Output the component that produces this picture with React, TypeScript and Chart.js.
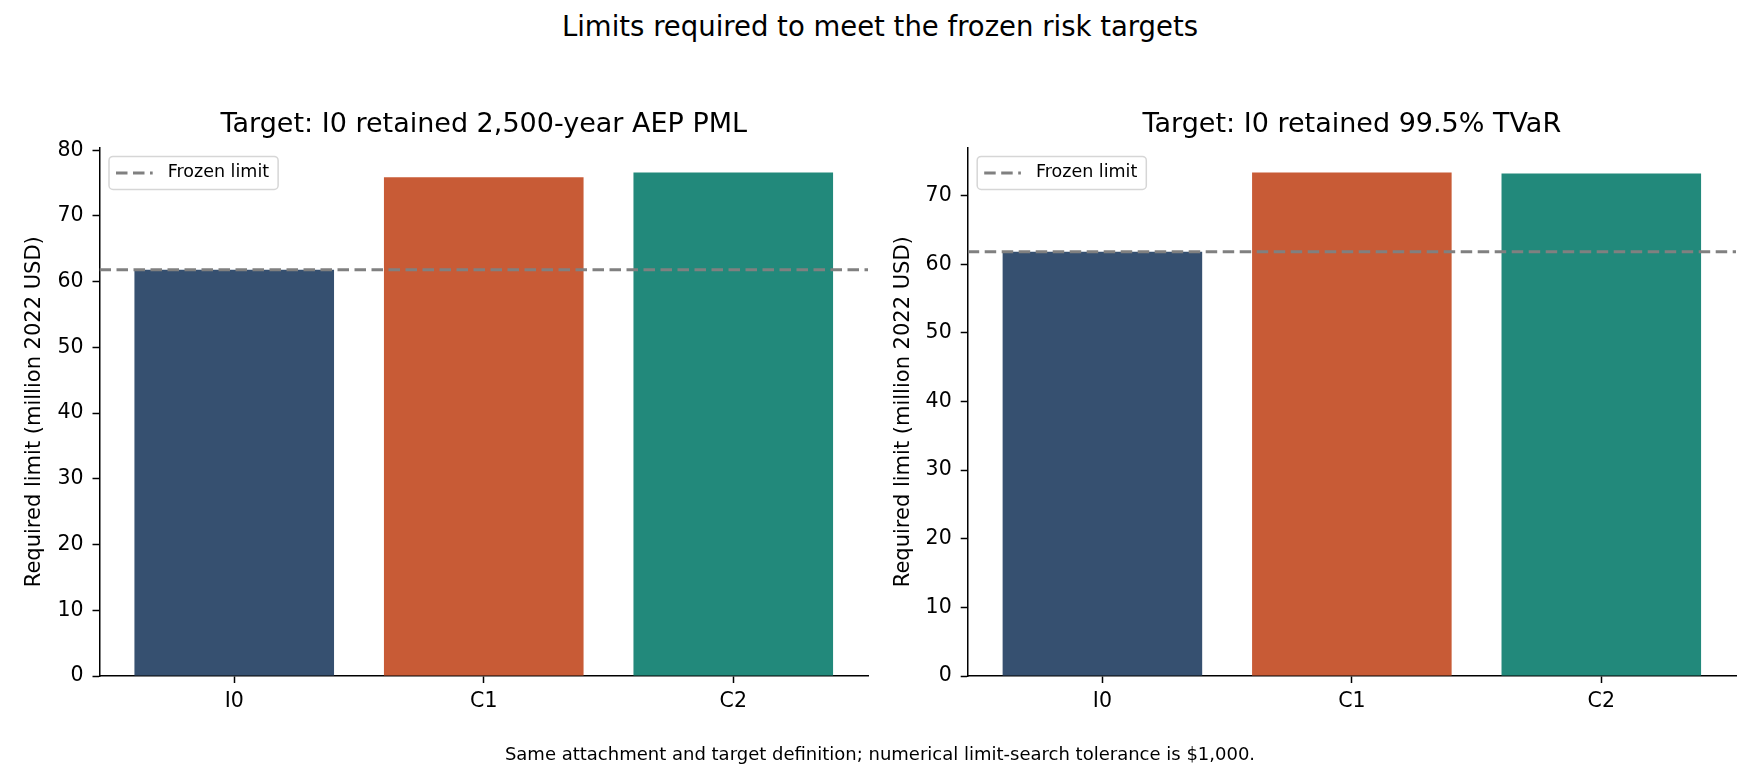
import { useEffect, useRef } from "react";
import { Chart, registerables } from "chart.js";

Chart.register(...registerables);

const CATEGORIES = ["I0", "C1", "C2"];
const BAR_COLORS = ["#365070", "#c85b36", "#22897b"];
const PML_LIMITS = [61.8, 75.9, 76.6];
const TVAR_LIMITS = [61.8, 73.35, 73.2];
const FROZEN_LIMIT = 61.8;
const Y_TICK_STEP = 10;

const SUPTITLE = "Limits required to meet the frozen risk targets";
const PML_TITLE = "Target: I0 retained 2,500-year AEP PML";
const TVAR_TITLE = "Target: I0 retained 99.5% TVaR";
const Y_LABEL = "Required limit (million 2022 USD)";
const FROZEN_LABEL = "Frozen limit";
const FOOTNOTE = "Same attachment and target definition; numerical limit-search tolerance is $1,000.";

const FONT = "'DejaVu Sans', sans-serif";
const DASH = [11.5, 5.5];

// matplotlib-style x limits: bars are 0.8 wide, 5% margin on each side
const HALF_BAR = 0.4;
const X_SPAN = CATEGORIES.length - 1 + 2 * HALF_BAR;
const X_MIN = -HALF_BAR - 0.05 * X_SPAN;
const X_MAX = CATEGORIES.length - 1 + HALF_BAR + 0.05 * X_SPAN;

// legend drawn inside the plot, top-left, with a rounded frame
const frozenLegend = {
  id: "frozenLegend",
  afterDraw(chart: any) {
    const { ctx, chartArea } = chart;
    const ds = chart.data.datasets.find((d: any) => d.type === "line");
    if (!ds || !chartArea) return;
    ctx.save();
    ctx.font = `17.5px ${FONT}`;
    const tw = ctx.measureText(ds.label).width;
    const x = chartArea.left + 9.5;
    const y = chartArea.top + 9;
    const w = 58.7 + tw + 9;
    const h = 33;
    ctx.beginPath();
    ctx.roundRect(x, y, w, h, 4);
    ctx.fillStyle = "rgba(255,255,255,0.8)";
    ctx.fill();
    ctx.strokeStyle = "rgba(204,204,204,0.8)";
    ctx.lineWidth = 1.5;
    ctx.stroke();

    ctx.beginPath();
    ctx.setLineDash(ds.borderDash);
    ctx.moveTo(x + 7, y + h / 2);
    ctx.lineTo(x + 43.7, y + h / 2);
    ctx.strokeStyle = ds.borderColor;
    ctx.lineWidth = ds.borderWidth;
    ctx.stroke();
    ctx.setLineDash([]);

    ctx.fillStyle = "#000";
    ctx.textBaseline = "middle";
    ctx.textAlign = "left";
    ctx.fillText(ds.label, x + 58.7, y + h / 2);
    ctx.restore();
  },
};

function makeConfig(title: string, values: number[], yWidth: number, padRight: number, yTitlePad: number): any {
  const yMax = Math.max(...values) * 1.05;
  return {
    type: "bar",
    data: {
      datasets: [
        {
          type: "line",
          label: FROZEN_LABEL,
          data: [
            { x: X_MIN, y: FROZEN_LIMIT },
            { x: X_MAX, y: FROZEN_LIMIT },
          ],
          borderColor: "#808080",
          borderWidth: 3,
          borderDash: DASH,
          pointRadius: 0,
          order: 0,
        },
        {
          type: "bar",
          label: "Required limit",
          data: values.map((v, i) => ({ x: i, y: v })),
          backgroundColor: BAR_COLORS,
          borderWidth: 0,
          barPercentage: 1,
          categoryPercentage: 0.8,
          order: 1,
        },
      ],
    },
    options: {
      animation: false,
      responsive: false,
      devicePixelRatio: 1,
      layout: { padding: { left: 0, right: padRight, top: 0, bottom: 0 } },
      plugins: {
        legend: { display: false },
        tooltip: { enabled: false },
        title: {
          display: true,
          text: title,
          fullSize: false,
          color: "#000",
          font: { family: FONT, size: 27, weight: "normal", lineHeight: 1.2 },
          padding: { top: 109, bottom: 6 },
        },
      },
      scales: {
        x: {
          type: "linear",
          min: X_MIN,
          max: X_MAX,
          offset: false,
          afterBuildTicks: (s: any) => {
            s.ticks = CATEGORIES.map((_, i) => ({ value: i }));
          },
          afterFit: (s: any) => {
            s.height = 92;
          },
          ticks: {
            callback: (v: number) => CATEGORIES[v],
            color: "#000",
            font: { family: FONT, size: 20.5 },
            padding: 6,
            maxRotation: 0,
            autoSkip: false,
          },
          grid: {
            offset: false,
            drawOnChartArea: false,
            drawTicks: true,
            tickLength: 7,
            tickColor: "#000",
            tickWidth: 1.5,
          },
          border: { display: true, color: "#000", width: 1.5 },
        },
        y: {
          min: 0,
          max: yMax,
          afterFit: (s: any) => {
            s.width = yWidth;
          },
          ticks: {
            stepSize: Y_TICK_STEP,
            includeBounds: false,
            color: "#000",
            font: { family: FONT, size: 20.5 },
            padding: 9,
          },
          title: {
            display: true,
            text: Y_LABEL,
            color: "#000",
            font: { family: FONT, size: 21, lineHeight: 1.2 },
            padding: { top: yTitlePad, bottom: 0 },
          },
          grid: { drawOnChartArea: false, drawTicks: true, tickLength: 7, tickColor: "#000", tickWidth: 1.5 },
          border: { display: true, color: "#000", width: 1.5 },
        },
      },
    },
    plugins: [frozenLegend],
  };
}

function Panel({ config, left }: { config: any; left: number }) {
  const ref = useRef<HTMLCanvasElement | null>(null);
  useEffect(() => {
    if (!ref.current) return;
    const c = new Chart(ref.current, config);
    return () => c.destroy();
  }, [config]);
  return (
    <canvas
      ref={ref}
      width={880}
      height={768}
      style={{ position: "absolute", left, top: 0, width: 880, height: 768 }}
    />
  );
}

const leftConfig = makeConfig(PML_TITLE, PML_LIMITS, 99.5, 12, 22);
const rightConfig = makeConfig(TVAR_TITLE, TVAR_LIMITS, 87.7, 24, 10.5);

export default function App() {
  return (
    <div
      style={{
        position: "fixed",
        left: 0,
        top: 0,
        width: 1760,
        height: 768,
        background: "#fff",
        fontFamily: FONT,
        color: "#000",
      }}
    >
      <div
        style={{
          position: "absolute",
          left: 0,
          top: 13,
          width: 1760,
          textAlign: "center",
          fontSize: 27.5,
          lineHeight: "27px",
          whiteSpace: "nowrap",
        }}
      >
        {SUPTITLE}
      </div>
      <Panel config={leftConfig} left={0} />
      <Panel config={rightConfig} left={880} />
      <div
        style={{
          position: "absolute",
          left: 0,
          top: 745,
          width: 1760,
          textAlign: "center",
          fontSize: 18,
          lineHeight: "18px",
          whiteSpace: "nowrap",
        }}
      >
        {FOOTNOTE}
      </div>
    </div>
  );
}
